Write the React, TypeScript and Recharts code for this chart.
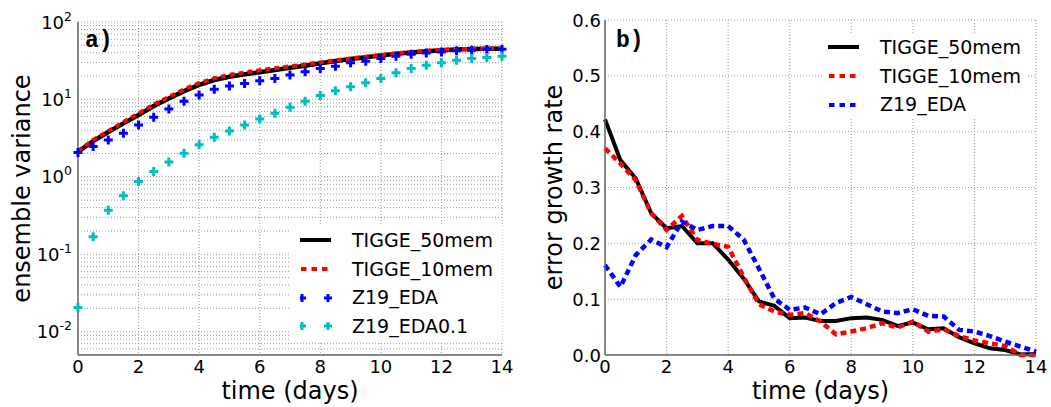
import { LineChart, Line, XAxis, YAxis, CartesianGrid, Legend } from "recharts"

// time axis, half-day steps
const days = [0, 0.5, 1, 1.5, 2, 2.5, 3, 3.5, 4, 4.5, 5, 5.5, 6, 6.5, 7, 7.5, 8, 8.5, 9, 9.5, 10, 10.5, 11, 11.5, 12, 12.5, 13, 13.5, 14]

// panel a) ensemble variance
const varTigge50 = [2.1, 2.9, 3.8, 4.9, 6.3, 8.2, 10.3, 12.8, 15.4, 17.8, 19.6, 21.1, 22.5, 24.0, 25.6, 27.3, 29.3, 31.3, 33.2, 35.0, 36.9, 38.8, 40.5, 42.0, 43.2, 44.1, 44.7, 45.0, 45.2]
const varTigge10 = [2.15, 3.0, 3.9, 5.1, 6.6, 8.6, 10.8, 13.5, 16.3, 18.8, 20.8, 22.3, 23.8, 25.3, 26.8, 28.3, 30.1, 32.0, 33.9, 35.7, 37.5, 39.4, 41.0, 42.4, 43.6, 44.5, 45.0, 45.3, 45.4]
const varEda = [2.06, 2.46, 3.0, 3.66, 4.68, 5.9, 7.5, 9.5, 11.4, 13.5, 14.9, 16.1, 17.4, 18.7, 20.6, 22.7, 25.1, 26.9, 29.7, 31.2, 33.8, 36.2, 38.4, 39.9, 41.1, 42.4, 43.3, 44.2, 44.6]
const varEda01 = [0.0205, 0.168, 0.37, 0.571, 0.873, 1.17, 1.55, 2.02, 2.59, 3.25, 3.92, 4.68, 5.6, 6.62, 7.9, 9.5, 11.2, 12.9, 14.6, 16.4, 18.7, 22.1, 25.1, 27.7, 29.7, 32.1, 33.8, 34.8, 36.2]

// panel b) error growth rate
const growTigge50 = [0.422, 0.349, 0.316, 0.254, 0.227, 0.231, 0.2, 0.2, 0.171, 0.137, 0.096, 0.088, 0.066, 0.067, 0.061, 0.061, 0.066, 0.067, 0.063, 0.052, 0.058, 0.046, 0.048, 0.032, 0.021, 0.012, 0.009, 0.001, 0.002]
const growTigge10 = [0.37, 0.343, 0.313, 0.254, 0.224, 0.249, 0.206, 0.199, 0.194, 0.14, 0.091, 0.078, 0.072, 0.075, 0.06, 0.037, 0.042, 0.048, 0.057, 0.049, 0.06, 0.042, 0.046, 0.034, 0.026, 0.021, 0.016, 0.0, 0.0]
const growEda = [0.161, 0.122, 0.179, 0.207, 0.193, 0.239, 0.224, 0.231, 0.231, 0.207, 0.155, 0.101, 0.081, 0.085, 0.073, 0.093, 0.104, 0.091, 0.078, 0.075, 0.082, 0.07, 0.069, 0.045, 0.042, 0.034, 0.024, 0.015, 0.006]

const dayTicks = [0, 2, 4, 6, 8, 10, 12, 14]
const decadeTicks = [0.01, 0.1, 1, 10, 100]
const decadeExps = ["-2", "-1", "0", "1", "2"]
const minorTicks = [
  0.005, 0.006, 0.007, 0.008, 0.009,
  0.01, 0.02, 0.03, 0.04, 0.05, 0.06, 0.07, 0.08, 0.09,
  0.1, 0.2, 0.3, 0.4, 0.5, 0.6, 0.7, 0.8, 0.9,
  1, 2, 3, 4, 5, 6, 7, 8, 9,
  10, 20, 30, 40, 50, 60, 70, 80, 90, 100,
]
const growTicks = [0, 0.1, 0.2, 0.3, 0.4, 0.5, 0.6]

const names = ["TIGGE_50mem", "TIGGE_10mem", "Z19_EDA", "Z19_EDA0.1"]

const varianceData = days.map((t, i) => ({
  t,
  tigge50: varTigge50[i],
  tigge10: varTigge10[i],
  eda: varEda[i],
  eda01: varEda01[i],
}))

const growthData = days.map((t, i) => ({
  t,
  tigge50: growTigge50[i],
  tigge10: growTigge10[i],
  eda: growEda[i],
}))

const FONT = "DejaVu Sans"
const frame = "#666"
const gridStroke = "#999"
const cyan = "#00bfbf"

const plusDot = (color: string) => (props: any) => {
  const { cx, cy, index } = props
  if (cx == null || cy == null) return <g key={index} />
  return (
    <path
      key={index}
      d={`M${cx - 4.5},${cy}H${cx + 4.5}M${cx},${cy - 4.5}V${cy + 4.5}`}
      stroke={color}
      strokeWidth={3}
      fill="none"
    />
  )
}

const XTick = (props: any) => {
  const { x, y, payload } = props
  return (
    <text x={x} y={y + 18} textAnchor="middle" fontSize={18} fill="#000" fontFamily={FONT}>
      {payload.value}
    </text>
  )
}

const LogTick = (props: any) => {
  const { x, y, payload } = props
  const exp = decadeExps[decadeTicks.indexOf(payload.value)]
  return (
    <text x={x - 6} y={y + 6.5} textAnchor="end" fontSize={18} fill="#000" fontFamily={FONT}>
      10
      <tspan dy={-8} fontSize={12.5}>{exp}</tspan>
    </text>
  )
}

const GrowTick = (props: any) => {
  const { x, y, payload } = props
  return (
    <text x={x - 4} y={y + 6.5} textAnchor="end" fontSize={18} fill="#000" fontFamily={FONT}>
      {Number(payload.value).toFixed(1)}
    </text>
  )
}

const xTitle = (props: any) => {
  const vb = props.viewBox || {}
  return (
    <text x={vb.x + vb.width / 2} y={vb.y + 44} textAnchor="middle" fontSize={24} fill="#000" fontFamily={FONT}>
      time (days)
    </text>
  )
}

const yTitle = (label: string, bx: number) => (props: any) => {
  const vb = props.viewBox || {}
  const cx = vb.x + bx
  const cy = vb.y + vb.height / 2
  return (
    <text x={cx} y={cy} transform={`rotate(-90 ${cx} ${cy})`} textAnchor="middle" fontSize={24} fill="#000" fontFamily={FONT}>
      {label}
    </text>
  )
}

type Handle = "solid" | "dash" | "plus"
const Handle = ({ kind, color }: { kind: Handle; color: string }) => (
  <svg width={32} height={14} style={{ flex: "none" }}>
    {kind === "solid" && <line x1={0} y1={7} x2={31} y2={7} stroke={color} strokeWidth={4} />}
    {kind === "dash" && <line x1={1} y1={7} x2={31} y2={7} stroke={color} strokeWidth={4} strokeDasharray="5.5 5" />}
    {kind === "plus" && (
      <>
        <path d="M-2,7H6M2,3V11" stroke={color} strokeWidth={3} />
        <path d="M24,7H32M28,3V11" stroke={color} strokeWidth={3} />
      </>
    )}
  </svg>
)

const legendBox = (items: { name: string; kind: Handle; color: string }[], padLeft: number, gap: number) => () => (
  <div style={{ fontFamily: FONT, fontSize: 19, color: "#000", background: "#fff", paddingLeft: padLeft }}>
    {items.map((it) => (
      <div key={it.name} style={{ display: "flex", alignItems: "center", height: 28.7 }}>
        <Handle kind={it.kind} color={it.color} />
        <span style={{ marginLeft: gap, whiteSpace: "nowrap", lineHeight: "19px" }}>{it.name}</span>
      </div>
    ))}
  </div>
)

const panelLabel = (left: number): React.CSSProperties => ({
  position: "absolute",
  left,
  top: 30,
  fontFamily: "Liberation Mono",
  fontWeight: "bold",
  fontSize: 23,
  lineHeight: "23px",
})

export default function App() {
  return (
    <div style={{ position: "absolute", left: 0, top: 0, width: 1051, height: 407, background: "#fff", fontFamily: FONT }}>
      <div style={{ position: "absolute", left: 0, top: 0 }}>
        <LineChart width={525} height={407} data={varianceData} margin={{ top: 22, right: 23, bottom: 0, left: 0 }}>
          <CartesianGrid xAxisId="x" yAxisId="minor" stroke={gridStroke} strokeDasharray="1 2" />
          <XAxis
            xAxisId="x"
            type="number"
            dataKey="t"
            domain={[0, 14]}
            ticks={dayTicks}
            interval={0}
            height={52}
            tickLine={false}
            tickSize={0}
            tickMargin={0}
            axisLine={{ stroke: frame, strokeWidth: 1.5 }}
            tick={<XTick />}
            label={{ content: xTitle }}
          />
          <XAxis xAxisId="top" orientation="top" type="number" dataKey="t" domain={[0, 14]} height={0} tick={false} tickLine={false} axisLine={{ stroke: frame, strokeWidth: 1.5 }} />
          <YAxis
            yAxisId="v"
            type="number"
            scale="log"
            domain={[0.005, 100]}
            allowDataOverflow
            ticks={decadeTicks}
            interval={0}
            width={78}
            tickLine={false}
            tickSize={0}
            tickMargin={0}
            axisLine={{ stroke: frame, strokeWidth: 1.5 }}
            tick={<LogTick />}
            label={{ content: yTitle("ensemble variance", 30) }}
          />
          <YAxis yAxisId="minor" type="number" scale="log" domain={[0.005, 100]} allowDataOverflow ticks={minorTicks} interval={0} width={0} hide />
          <YAxis yAxisId="right" orientation="right" type="number" domain={[0, 1]} width={0} tick={false} tickLine={false} axisLine={{ stroke: frame, strokeWidth: 1.5 }} />
          <Legend
            layout="vertical"
            align="center"
            verticalAlign="middle"
            wrapperStyle={{ left: 290, top: 226, width: 212, height: 122 }}
            content={legendBox(
              [
                { name: names[0], kind: "solid", color: "#000" },
                { name: names[1], kind: "dash", color: "#ff0000" },
                { name: names[2], kind: "plus", color: "#0000ff" },
                { name: names[3], kind: "plus", color: cyan },
              ],
              10,
              20,
            )}
          />
          <Line xAxisId="x" yAxisId="v" dataKey="tigge50" name={names[0]} stroke="#000" strokeWidth={4.5} dot={false} activeDot={false} isAnimationActive={false} />
          <Line xAxisId="x" yAxisId="v" dataKey="tigge10" name={names[1]} stroke="#ff0000" strokeWidth={4} strokeDasharray="5 4" dot={false} activeDot={false} isAnimationActive={false} />
          <Line xAxisId="x" yAxisId="v" dataKey="eda" name={names[2]} stroke="none" dot={plusDot("#0000ff")} activeDot={false} isAnimationActive={false} />
          <Line xAxisId="x" yAxisId="v" dataKey="eda01" name={names[3]} stroke="none" dot={plusDot(cyan)} activeDot={false} isAnimationActive={false} />
        </LineChart>
        <div style={panelLabel(85)}>a)</div>
      </div>

      <div style={{ position: "absolute", left: 525, top: 0 }}>
        <LineChart width={526} height={407} data={growthData} margin={{ top: 20, right: 15, bottom: 0, left: 0 }}>
          <CartesianGrid xAxisId="x" yAxisId="g" stroke={gridStroke} strokeDasharray="1 2" />
          <XAxis
            xAxisId="x"
            type="number"
            dataKey="t"
            domain={[0, 14]}
            ticks={dayTicks}
            interval={0}
            height={52}
            tickLine={false}
            tickSize={0}
            tickMargin={0}
            axisLine={{ stroke: frame, strokeWidth: 1.5 }}
            tick={<XTick />}
            label={{ content: xTitle }}
          />
          <XAxis xAxisId="top" orientation="top" type="number" dataKey="t" domain={[0, 14]} height={0} tick={false} tickLine={false} axisLine={{ stroke: frame, strokeWidth: 1.5 }} />
          <YAxis
            yAxisId="g"
            type="number"
            domain={[0, 0.6]}
            ticks={growTicks}
            interval={0}
            width={80}
            tickLine={false}
            tickSize={0}
            tickMargin={0}
            axisLine={{ stroke: frame, strokeWidth: 1.5 }}
            tick={<GrowTick />}
            label={{ content: yTitle("error growth rate", 37) }}
          />
          <YAxis yAxisId="right" orientation="right" type="number" domain={[0, 1]} width={0} tick={false} tickLine={false} axisLine={{ stroke: frame, strokeWidth: 1.5 }} />
          <Legend
            layout="vertical"
            align="center"
            verticalAlign="middle"
            wrapperStyle={{ left: 298, top: 33, width: 205, height: 86 }}
            content={legendBox(
              [
                { name: names[0], kind: "solid", color: "#000" },
                { name: names[1], kind: "dash", color: "#ff0000" },
                { name: names[2], kind: "dash", color: "#0000ff" },
              ],
              5,
              20,
            )}
          />
          <Line xAxisId="x" yAxisId="g" dataKey="tigge50" name={names[0]} stroke="#000" strokeWidth={4} dot={false} activeDot={false} isAnimationActive={false} />
          <Line xAxisId="x" yAxisId="g" dataKey="tigge10" name={names[1]} stroke="#ff0000" strokeWidth={4.5} strokeDasharray="6 4" dot={false} activeDot={false} isAnimationActive={false} />
          <Line xAxisId="x" yAxisId="g" dataKey="eda" name={names[2]} stroke="#0000ff" strokeWidth={4.5} strokeDasharray="6 4" dot={false} activeDot={false} isAnimationActive={false} />
        </LineChart>
        <div style={panelLabel(91)}>b)</div>
      </div>
    </div>
  )
}
